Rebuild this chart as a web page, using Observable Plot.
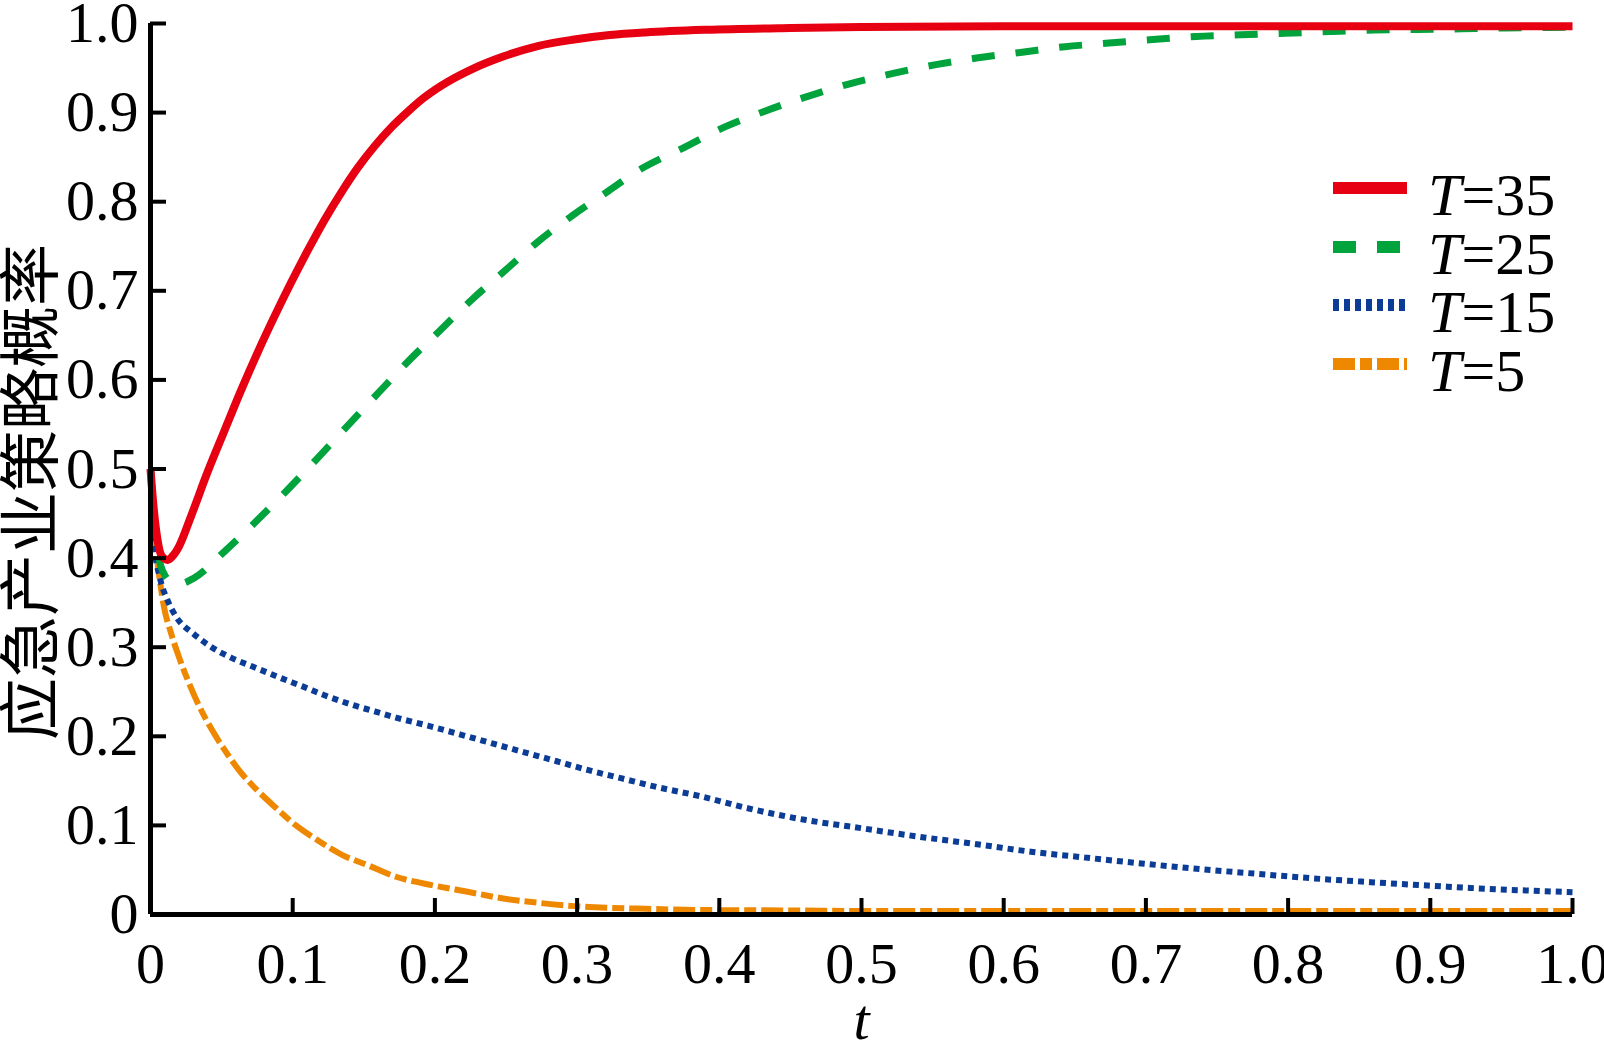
<!DOCTYPE html>
<html><head><meta charset="utf-8">
<script src="https://cdn.jsdelivr.net/npm/d3@7"></script>
<script src="https://cdn.jsdelivr.net/npm/@observablehq/plot@0.6"></script>
<style>
html,body{margin:0;padding:0;background:#fff;}
#chart{position:relative;width:1604px;height:1049px;}
#legend{position:absolute;left:0;top:0;pointer-events:none;}
</style></head><body><div id="chart"></div>
<script>
// ---- data ----
const seriesNames = ["T=35", "T=25", "T=15", "T=5"];
const seriesColors = ["#e60012", "#00a33c", "#0b3c96", "#ee8800"];

const tT35 = [0,0.002,0.005,0.008,0.012,0.016,0.020,0.0285,0.040,0.052,0.0636,0.0754,0.0871,0.0988,0.1105,0.1222,0.134,0.1457,0.1574,0.1691,0.1809,0.1926,0.2043,0.2277,0.248,0.273,0.298,0.323,0.348,0.391,0.45,0.5,0.6,0.7,0.8,0.9,1.0];
const yT35 = [0.5,0.46,0.42,0.402,0.398,0.403,0.413,0.447,0.496,0.543,0.588,0.631,0.671,0.709,0.745,0.779,0.810,0.838,0.862,0.883,0.901,0.917,0.930,0.950,0.963,0.975,0.982,0.987,0.990,0.993,0.995,0.996,0.997,0.997,0.997,0.997,0.997];

const tT25 = [0,0.003,0.006,0.01,0.015,0.02,0.03,0.0531,0.0754,0.0976,0.1187,0.1387,0.1602,0.1813,0.2038,0.2259,0.2488,0.2716,0.2969,0.322,0.3426,0.3755,0.402,0.432,0.4617,0.491,0.5207,0.5514,0.582,0.613,0.643,0.674,0.705,0.7355,0.7666,0.798,0.829,0.860,0.891,0.922,0.9525,0.983,1.0];
const yT25 = [0.5,0.44,0.40,0.381,0.373,0.371,0.377,0.409,0.443,0.4787,0.5142,0.5487,0.5854,0.621,0.6558,0.690,0.722,0.754,0.7846,0.812,0.8345,0.861,0.8825,0.9016,0.918,0.932,0.9435,0.9536,0.9615,0.9678,0.974,0.978,0.982,0.9854,0.9873,0.989,0.991,0.9926,0.9933,0.994,0.995,0.9955,0.996];

const tT15 = [0,0.002,0.0069,0.0119,0.0194,0.0295,0.042,0.057,0.0722,0.0923,0.107,0.1224,0.1425,0.1576,0.1726,0.195,0.218,0.2404,0.263,0.2857,0.308,0.3308,0.3535,0.3886,0.420,0.460,0.4997,0.5395,0.579,0.619,0.659,0.6987,0.7387,0.7785,0.818,0.858,0.898,0.938,1.0];
const yT15 = [0.5,0.424,0.376,0.353,0.331,0.316,0.301,0.288,0.278,0.265,0.256,0.246,0.235,0.228,0.221,0.212,0.202,0.192,0.182,0.172,0.162,0.153,0.144,0.132,0.1193,0.1063,0.0969,0.0875,0.0793,0.0705,0.0636,0.057,0.0508,0.0456,0.0405,0.0363,0.0325,0.0290,0.025];

const tT5 = [0,0.0019,0.0056,0.0094,0.0144,0.0207,0.027,0.0345,0.0433,0.052,0.0622,0.0747,0.0873,0.1023,0.1174,0.135,0.1525,0.1726,0.1977,0.223,0.248,0.273,0.298,0.323,0.348,0.389,0.45,0.5,0.6,0.7,0.8,0.9,1.0];
const yT5 = [0.5,0.443,0.387,0.346,0.316,0.286,0.26,0.233,0.207,0.185,0.162,0.140,0.121,0.100,0.0835,0.0667,0.0555,0.0424,0.033,0.0255,0.018,0.0131,0.0094,0.0075,0.0064,0.005,0.0045,0.004,0.004,0.004,0.004,0.004,0.004];

const xTicks = [0,0.1,0.2,0.3,0.4,0.5,0.6,0.7,0.8,0.9,1.0];
const yTicks = [0,0.1,0.2,0.3,0.4,0.5,0.6,0.7,0.8,0.9,1.0];
const yLabel = "应急产业策略概率";
const xLabel = "t";

// ---- styles ----
const dashes = [null, "23,21", "6,5", "22,5,12,5"];
const widths = [8, 7, 6, 6];
const serif = "'Liberation Serif','Times New Roman',serif";
const fmt = d => d === 0 ? "0" : d.toFixed(1);

const tArr = [tT35, tT25, tT15, tT5];
const yArr = [yT35, yT25, yT15, yT5];
const tables = tArr.map((ts, i) => ts.map((t, j) => ({t, v: yArr[i][j]})));

const lineMarks = tables.map((tbl, i) => Plot.line(tbl, {
  x: "t", y: "v", stroke: seriesColors[i], strokeWidth: widths[i],
  strokeDasharray: dashes[i], strokeLinecap: "butt", curve: "monotone-x"
})).reverse();

const chart = Plot.plot({
  width: 1604, height: 1049,
  marginLeft: 150, marginRight: 32, marginTop: 23, marginBottom: 135,
  x: {domain: [0, 1]},
  y: {domain: [0, 1]},
  style: {background: "#fff", overflow: "visible"},
  marks: [
    ...lineMarks,
    Plot.ruleX([0], {stroke: "#000", strokeWidth: 5}),
    Plot.ruleY([0], {stroke: "#000", strokeWidth: 5}),
    Plot.axisX({ticks: xTicks, tickSize: -16, strokeWidth: 4, tickFormat: () => "", label: null}),
    Plot.axisY({ticks: yTicks, tickSize: -16, strokeWidth: 4, tickFormat: () => "", label: null}),
    Plot.axisX({ticks: xTicks, tickSize: 0, tickPadding: 27, tickFormat: fmt, fontSize: 58, fontFamily: serif, fill: "#000", label: null}),
    Plot.axisY({ticks: yTicks, tickSize: 0, tickPadding: 12, tickFormat: fmt, fontSize: 58, fontFamily: serif, fill: "#000", label: null}),
    Plot.text([yLabel], {frameAnchor: "left", textAnchor: "middle", lineAnchor: "middle", dx: -117, dy: 23, rotate: -90, fontSize: 62, fontFamily: "'Noto Sans CJK SC'", fill: "#000", text: d => d}),
    Plot.text([xLabel], {frameAnchor: "bottom", dy: 124, fontSize: 58, fontFamily: serif, fontStyle: "italic", fill: "#000", text: d => d})
  ]
});
const root = document.getElementById("chart");
root.appendChild(chart);

// ---- legend overlay ----
const lg = d3.select(root).append("svg").attr("id", "legend").attr("width", 1604).attr("height", 1049);
const rowY = [188, 247, 305, 364];
seriesNames.forEach((name, i) => {
  lg.append("line").attr("x1", 1333).attr("x2", 1407).attr("y1", rowY[i]).attr("y2", rowY[i])
    .attr("stroke", seriesColors[i]).attr("stroke-width", 12)
    .attr("stroke-dasharray", dashes[i] || null);
  const tx = lg.append("text").attr("x", 1428).attr("y", rowY[i] + 27)
    .attr("font-family", serif).attr("font-size", 60).attr("fill", "#000");
  const [a, b] = name.split("=");
  tx.append("tspan").attr("font-style", "italic").text(a);
  tx.append("tspan").text("=" + b);
});
</script></body></html>
